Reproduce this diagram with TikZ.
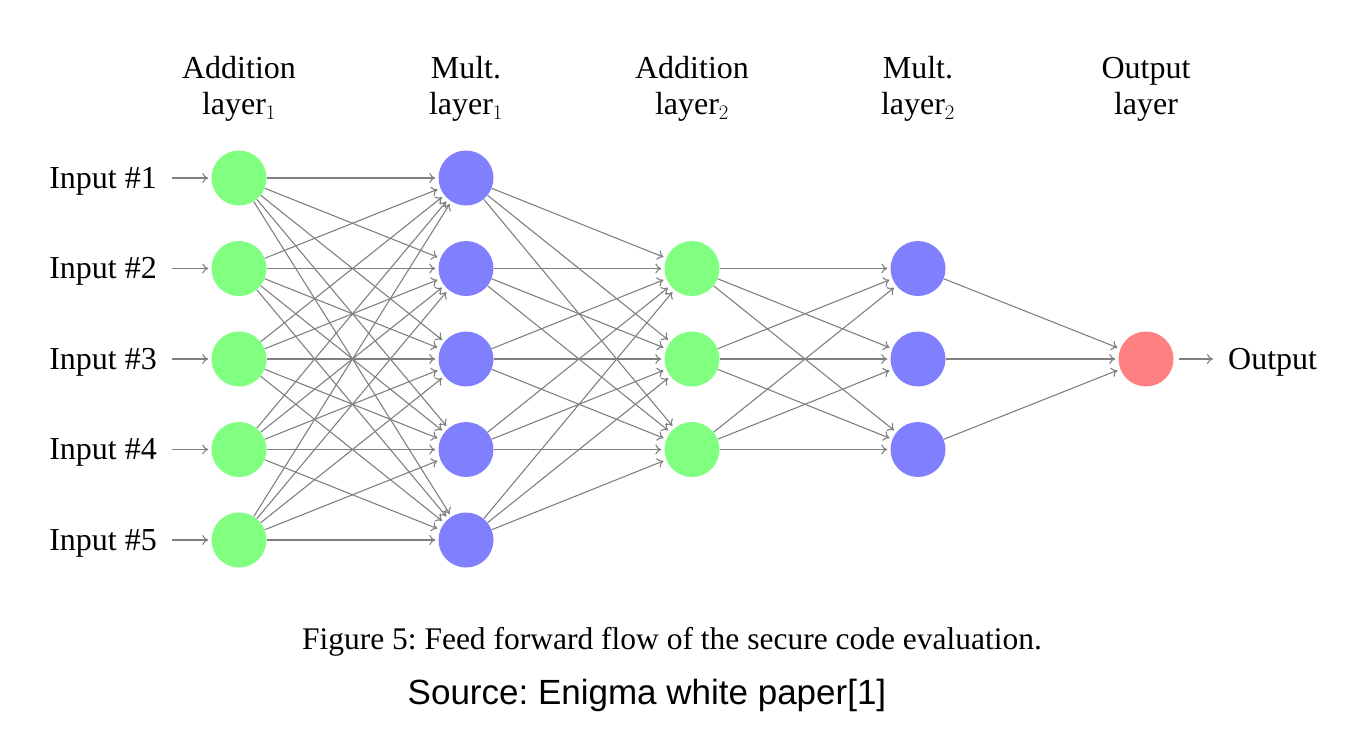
\documentclass[tikz,border=0pt]{standalone}
\usepackage{fontspec}
\setmainfont{Liberation Serif}
\newfontfamily\arialfont{Liberation Sans}
\usetikzlibrary{arrows.meta}
\frenchspacing
\begin{document}
\begin{tikzpicture}[
		x=1pt, y=-1pt,
		neuron/.style={
				circle,
				fill=#1,
				inner sep=0pt,
				minimum size=55pt,
				draw=none,
			},
		link/.style={
				-{To[length=6pt, width=10pt]},
				draw=black!50,
				line width=1.1pt,
				shorten >=3pt,
			},
		head/.style={
				align=center,
				font=\fontsize{32}{36}\selectfont,
			},
		lbl/.style={
				inner sep=6pt,
				font=\fontsize{32}{36}\selectfont,
			},
	]
	\useasboundingbox (0,0) rectangle (1346,740);

	% layer headers
	\node[head] (h1) at (239,89) {Addition\\layer$_1$};
	\node[head] (h2) at (466,89) {Mult.\\layer$_1$};
	\node[head] (h3) at (692,89) {Addition\\layer$_2$};
	\node[head] (h4) at (918,89) {Mult.\\layer$_2$};
	\node[head] (h5) at (1146,89) {Output\\layer};

	% neurons
	\foreach \i in {1,...,5} {
			\node[lbl, anchor=east] (in-\i) at (163,{181+90.5*(\i-1)}) {Input \#\i};
			\node[neuron=green!50] (add1-\i) at (239,{178+90.5*(\i-1)}) {};
			\node[neuron=blue!50] (mul1-\i) at (466,{178+90.5*(\i-1)}) {};
		}
	\foreach \i in {1,2,3} {
			\node[neuron=green!50] (add2-\i) at (692,{268.5+90.5*(\i-1)}) {};
			\node[neuron=blue!50] (mul2-\i) at (918,{268.5+90.5*(\i-1)}) {};
		}
	\node[neuron=red!50] (out) at (1146,359) {};
	\node[lbl, anchor=west] (outlbl) at (1222,362) {Output};

	% connections
	\foreach \i in {1,...,5} {
			\draw[link, shorten <=9pt] (in-\i.east |- add1-\i) -- (add1-\i);
			\foreach \j in {1,...,5}
			\draw[link] (add1-\i) -- (mul1-\j);
			\foreach \j in {1,2,3}
			\draw[link] (mul1-\i) -- (add2-\j);
		}
	\foreach \i in {1,2,3} {
			\foreach \j in {1,2,3}
			\draw[link] (add2-\i) -- (mul2-\j);
			\draw[link] (mul2-\i) -- (out);
		}
	\draw[link, shorten <=5pt, shorten >=9pt] (out) -- (outlbl.west |- out);

	% caption
	\node[font=\fontsize{31.5}{36}\selectfont] (cap) at (672,642) {Figure 5: Feed forward flow of the secure code evaluation.};
	\node[font=\arialfont\fontsize{35}{40}\selectfont] (src) at (647,695) {Source: Enigma white paper[1]};
\end{tikzpicture}
\end{document}
